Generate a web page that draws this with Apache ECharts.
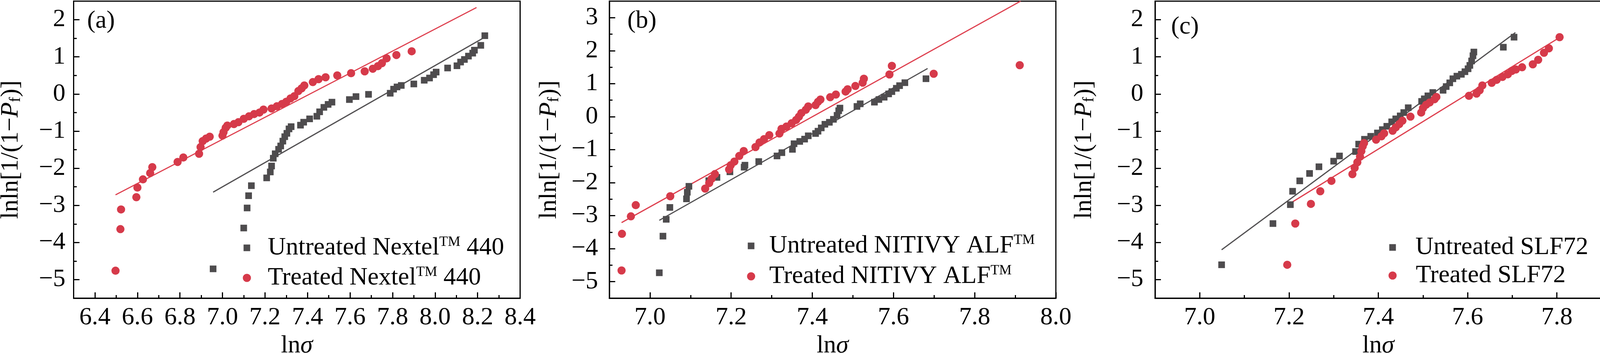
<!DOCTYPE html>
<html><head><meta charset="utf-8">
<script src="https://cdn.jsdelivr.net/npm/echarts@6/dist/echarts.min.js"></script>
<style>html,body{margin:0;padding:0;background:#fff}#c{width:4102px;height:907px}</style>
</head><body><div id="c"></div>
<script>
// ---------------- DATA ----------------
// Panel (a) Nextel 440
const aUntreated = [[6.956,-4.71],[7.100,-3.61],[7.116,-3.07],[7.123,-2.74],[7.136,-2.47],[7.208,-2.26],[7.225,-2.10],[7.231,-1.94],[7.239,-1.73],[7.248,-1.61],[7.264,-1.49],[7.274,-1.40],[7.284,-1.27],[7.293,-1.15],[7.303,-1.06],[7.313,-0.94],[7.323,-0.88],[7.367,-0.84],[7.382,-0.76],[7.410,-0.67],[7.444,-0.60],[7.457,-0.48],[7.477,-0.36],[7.497,-0.28],[7.515,-0.22],[7.597,-0.15],[7.628,-0.07],[7.687,-0.01],[7.789,0.02],[7.805,0.13],[7.821,0.19],[7.841,0.23],[7.900,0.27],[7.949,0.37],[7.974,0.43],[7.993,0.52],[8.005,0.59],[8.059,0.70],[8.103,0.76],[8.120,0.86],[8.138,0.93],[8.157,1.02],[8.177,1.10],[8.185,1.18],[8.215,1.31],[8.234,1.57]];
const aTreated = [[6.497,-4.76],[6.520,-3.64],[6.523,-3.11],[6.595,-2.78],[6.600,-2.52],[6.626,-2.30],[6.660,-2.13],[6.670,-1.97],[6.789,-1.83],[6.816,-1.71],[6.890,-1.61],[6.897,-1.43],[6.907,-1.27],[6.923,-1.20],[6.940,-1.15],[7.000,-1.12],[7.005,-1.03],[7.015,-0.91],[7.023,-0.85],[7.054,-0.81],[7.075,-0.76],[7.100,-0.67],[7.125,-0.60],[7.149,-0.54],[7.174,-0.50],[7.193,-0.42],[7.231,-0.39],[7.256,-0.33],[7.280,-0.27],[7.300,-0.21],[7.320,-0.12],[7.338,-0.06],[7.357,0.08],[7.372,0.15],[7.385,0.23],[7.425,0.32],[7.452,0.40],[7.485,0.45],[7.540,0.50],[7.605,0.56],[7.669,0.61],[7.707,0.68],[7.731,0.75],[7.750,0.83],[7.772,0.96],[7.818,1.05],[7.890,1.15]];
const aUntreatedFit = [[6.956,-2.644],[8.223,1.495]];
const aTreatedFit = [[6.497,-2.717],[8.195,2.329]];

// Panel (b) NITIVY ALF
const bUntreated = [[7.023,-4.73],[7.032,-3.62],[7.040,-3.11],[7.049,-2.75],[7.090,-2.49],[7.092,-2.29],[7.096,-2.11],[7.145,-1.94],[7.165,-1.84],[7.197,-1.67],[7.232,-1.53],[7.234,-1.47],[7.268,-1.36],[7.313,-1.19],[7.325,-1.09],[7.351,-0.99],[7.355,-0.82],[7.369,-0.75],[7.381,-0.68],[7.390,-0.58],[7.408,-0.51],[7.414,-0.44],[7.422,-0.34],[7.431,-0.23],[7.442,-0.17],[7.452,-0.08],[7.461,0.04],[7.465,0.18],[7.468,0.26],[7.510,0.31],[7.518,0.39],[7.553,0.44],[7.564,0.52],[7.577,0.59],[7.588,0.69],[7.596,0.76],[7.607,0.86],[7.615,0.94],[7.628,1.03],[7.680,1.15]];
const bTreated = [[6.930,-4.66],[6.931,-3.55],[6.953,-3.02],[6.965,-2.68],[7.050,-2.41],[7.136,-2.18],[7.146,-2.01],[7.152,-1.88],[7.160,-1.74],[7.195,-1.60],[7.199,-1.47],[7.208,-1.36],[7.220,-1.19],[7.231,-1.04],[7.260,-0.92],[7.270,-0.78],[7.281,-0.68],[7.294,-0.56],[7.319,-0.51],[7.324,-0.37],[7.336,-0.30],[7.349,-0.20],[7.360,-0.10],[7.367,0.00],[7.373,0.11],[7.384,0.21],[7.390,0.31],[7.408,0.35],[7.414,0.45],[7.420,0.52],[7.444,0.59],[7.458,0.67],[7.482,0.76],[7.487,0.83],[7.506,0.93],[7.524,1.03],[7.527,1.15],[7.590,1.28],[7.596,1.54],[7.699,1.30],[7.911,1.56]];
const bUntreatedFit = [[7.023,-3.14],[7.684,1.46]];
const bTreatedFit = [[6.930,-3.21],[7.913,3.50]];

// Panel (c) SLF72
const cUntreated = [[7.049,-4.60],[7.164,-3.49],[7.203,-2.98],[7.208,-2.62],[7.224,-2.34],[7.246,-2.14],[7.267,-1.96],[7.300,-1.81],[7.313,-1.67],[7.349,-1.55],[7.356,-1.35],[7.369,-1.22],[7.383,-1.14],[7.398,-1.05],[7.409,-0.96],[7.419,-0.87],[7.430,-0.75],[7.439,-0.67],[7.449,-0.59],[7.457,-0.50],[7.467,-0.37],[7.497,-0.20],[7.503,-0.13],[7.511,-0.05],[7.522,0.04],[7.545,0.10],[7.552,0.20],[7.560,0.30],[7.567,0.41],[7.576,0.48],[7.586,0.53],[7.594,0.60],[7.601,0.68],[7.605,0.77],[7.609,0.89],[7.612,1.03],[7.614,1.13],[7.680,1.26],[7.704,1.53]];
const cTreated = [[7.196,-4.60],[7.214,-3.49],[7.249,-2.96],[7.270,-2.62],[7.295,-2.34],[7.342,-2.16],[7.347,-1.99],[7.353,-1.84],[7.359,-1.69],[7.362,-1.54],[7.365,-1.41],[7.368,-1.32],[7.395,-1.23],[7.407,-1.14],[7.413,-1.06],[7.432,-0.99],[7.439,-0.90],[7.447,-0.81],[7.454,-0.72],[7.472,-0.61],[7.496,-0.50],[7.500,-0.38],[7.507,-0.29],[7.515,-0.23],[7.526,-0.14],[7.530,-0.08],[7.603,-0.05],[7.620,0.01],[7.627,0.10],[7.633,0.23],[7.654,0.30],[7.665,0.38],[7.678,0.46],[7.690,0.53],[7.699,0.62],[7.708,0.66],[7.722,0.72],[7.746,0.80],[7.758,0.92],[7.771,1.11],[7.782,1.23],[7.806,1.53]];
const cUntreatedFit = [[7.049,-4.197],[7.707,1.654]];
const cTreatedFit = [[7.196,-2.994],[7.805,1.514]];

// Axis ranges and tick values
const aXRange = [6.3, 8.4];
const aXTicks = [6.4,6.6,6.8,7.0,7.2,7.4,7.6,7.8,8.0,8.2,8.4];
const aXMinor = [6.5,6.7,6.9,7.1,7.3,7.5,7.7,7.9,8.1,8.3];
const bXRange = [6.9, 8.0];
const bXTicks = [7.0,7.2,7.4,7.6,7.8,8.0];
const bXMinor = [7.1,7.3,7.5,7.7,7.9];
const cXRange = [6.9, 7.9];
const cXTicks = [7.0,7.2,7.4,7.6,7.8];
const cXMinor = [7.1,7.3,7.5,7.7];
const acYRange = [-5.5, 2.5];
const acYTicks = [-5,-4,-3,-2,-1,0,1,2];
const acYMinor = [-4.5,-3.5,-2.5,-1.5,-0.5,0.5,1.5];
const bYRange = [-5.5, 3.5];
const bYTicks = [-5,-4,-3,-2,-1,0,1,2,3];
const bYMinor = [-4.5,-3.5,-2.5,-1.5,-0.5,0.5,1.5,2.5];

// Labels
const panelLabels = ['(a)','(b)','(c)'];
const untreatedNames = ['Untreated Nextel™ 440','Untreated NITIVY ALF™','Untreated SLF72'];
const treatedNames = ['Treated Nextel™ 440','Treated NITIVY ALF™','Treated SLF72'];

// ---------------- LAYOUT / STYLE ----------------
const FONT = "'Liberation Serif','Times New Roman',serif";
const RED = '#D63A4A';
const GRAY = '#4E4C4E';
const RED_LINE = '#DE3F4E';
const GRAY_LINE = '#525052';

const panels = [
  {data:[aUntreated,aTreated,aUntreatedFit,aTreatedFit], xr:aXRange, xt:aXTicks, xm:aXMinor, yr:acYRange, yt:acYTicks, ym:acYMinor,
   left:188.5, yLabMargin:21, yNameGap:128, title:{left:223, top:22},
   legU:{left:623.5, cy:635, gap:40}, legT:{left:621.5, cy:712, gap:38}},
  {data:[bUntreated,bTreated,bUntreatedFit,bTreatedFit], xr:bXRange, xt:bXTicks, xm:bXMinor, yr:bYRange, yt:bYTicks, ym:bYMinor,
   left:1560, yLabMargin:29, yNameGap:122, title:{left:1606, top:22},
   legU:{left:1914.3, cy:630, gap:33}, legT:{left:1912.3, cy:708, gap:31}},
  {data:[cUntreated,cTreated,cUntreatedFit,cTreatedFit], xr:cXRange, xt:cXTicks, xm:cXMinor, yr:acYRange, yt:acYTicks, ym:acYMinor,
   left:2957, yLabMargin:30, yNameGap:149, title:{left:2998, top:37},
   legU:{left:3556.5, cy:634, gap:45}, legT:{left:3554.5, cy:706, gap:44}}
];

const FS = 64;
const baseText = {fontFamily:FONT, fontSize:FS, color:'#000', lineHeight:FS};

function fmtY(v){ return v < 0 ? '\u2212' + Math.abs(v) : String(v); }
function fmtX(v){ return v.toFixed(1); }
function legendFormatter(name){
  const parts = name.split('™');
  if (parts.length === 1) return '{g| }{t|' + name + '}';
  return '{g| }{t|' + parts[0] + '}{s|TM}{t|' + parts[1] + '}';
}

const option = {animation:false, backgroundColor:'#fff', textStyle:{fontFamily:FONT},
  grid:[], xAxis:[], yAxis:[], series:[], legend:[], title:[]};

panels.forEach((p, i) => {
  option.grid.push({left:p.left, top:3, width:1143, height:761, show:true, borderColor:'#000', borderWidth:3,
    backgroundColor:'transparent', containLabel:false, outerBoundsMode:'none'});
  const xi = option.xAxis.length, yi = option.yAxis.length;
  option.xAxis.push({type:'value', gridIndex:i, min:p.xr[0], max:p.xr[1], position:'bottom',
    axisLine:{show:true, onZero:false, lineStyle:{color:'#000', width:3}},
    axisTick:{show:true, inside:true, length:15, lineStyle:{color:'#000', width:3}, customValues:p.xt},
    axisLabel:{show:true, customValues:p.xt, margin:18, formatter:fmtX, ...baseText},
    splitLine:{show:false}, minorTick:{show:false},
    name:'{t|ln}{i|σ}', nameLocation:'middle', nameGap:90,
    nameTextStyle:{rich:{t:{...baseText}, i:{...baseText, fontStyle:'italic'}}}});
  option.xAxis.push({type:'value', gridIndex:i, min:p.xr[0], max:p.xr[1], position:'bottom',
    axisLine:{show:false, onZero:false},
    axisTick:{show:true, inside:true, length:8, lineStyle:{color:'#000', width:3}, customValues:p.xm},
    axisLabel:{show:false}, splitLine:{show:false}});
  option.yAxis.push({type:'value', gridIndex:i, min:p.yr[0], max:p.yr[1], position:'left',
    axisLine:{show:true, onZero:false, lineStyle:{color:'#000', width:3}},
    axisTick:{show:true, inside:true, length:15, lineStyle:{color:'#000', width:3}, customValues:p.yt},
    axisLabel:{show:true, customValues:p.yt, margin:p.yLabMargin, formatter:fmtY, ...baseText},
    splitLine:{show:false},
    name:'{t|lnln[1/(1\u2212}{i|P}{s|f}{t|)]}', nameLocation:'middle', nameRotate:90, nameGap:p.yNameGap,
    nameTextStyle:{rich:{t:{...baseText}, i:{...baseText, fontStyle:'italic'},
      s:{fontFamily:FONT, fontSize:40, lineHeight:40, color:'#000', verticalAlign:'bottom'}}}});
  option.yAxis.push({type:'value', gridIndex:i, min:p.yr[0], max:p.yr[1], position:'left',
    axisLine:{show:false, onZero:false},
    axisTick:{show:true, inside:true, length:8, lineStyle:{color:'#000', width:3}, customValues:p.ym},
    axisLabel:{show:false}, splitLine:{show:false}});

  const [unt, trt, untFit, trtFit] = p.data;
  option.series.push({type:'line', xAxisIndex:xi, yAxisIndex:yi, data:untFit, symbol:'none', silent:true,
    lineStyle:{color:GRAY_LINE, width:3}, z:2, clip:true});
  option.series.push({type:'line', xAxisIndex:xi, yAxisIndex:yi, data:trtFit, symbol:'none', silent:true,
    lineStyle:{color:RED_LINE, width:3}, z:2, clip:true});
  option.series.push({type:'scatter', name:untreatedNames[i], xAxisIndex:xi, yAxisIndex:yi, data:unt,
    symbol:'rect', symbolSize:17, itemStyle:{color:GRAY, opacity:1}, z:3});
  option.series.push({type:'scatter', name:treatedNames[i], xAxisIndex:xi, yAxisIndex:yi, data:trt,
    symbol:'circle', symbolSize:21, itemStyle:{color:RED, opacity:1}, z:3});

  const mkLegend = (name, icon, size, color, L) => ({
    data:[{name:name, icon:icon, itemStyle:{color:color}}], left:L.left, top:L.cy - FS/2, orient:'vertical',
    itemWidth:size, itemHeight:size, padding:0, selectedMode:false, formatter:legendFormatter,
    textStyle:{...baseText, rich:{g:{width:L.gap, fontSize:FS, lineHeight:FS}, t:{...baseText},
      s:{fontFamily:FONT, fontSize:36, lineHeight:36, color:'#000', verticalAlign:'top'}}}});
  option.legend.push(mkLegend(untreatedNames[i], 'rect', 17, GRAY, p.legU));
  option.legend.push(mkLegend(treatedNames[i], 'circle', 21, RED, p.legT));

  option.title.push({text:panelLabels[i], left:p.title.left, top:p.title.top, padding:0,
    textStyle:{...baseText, fontWeight:'normal'}});
});

const chart = echarts.init(document.getElementById('c'), null, {renderer:'canvas', width:4102, height:907});
chart.setOption(option);
</script></body></html>
